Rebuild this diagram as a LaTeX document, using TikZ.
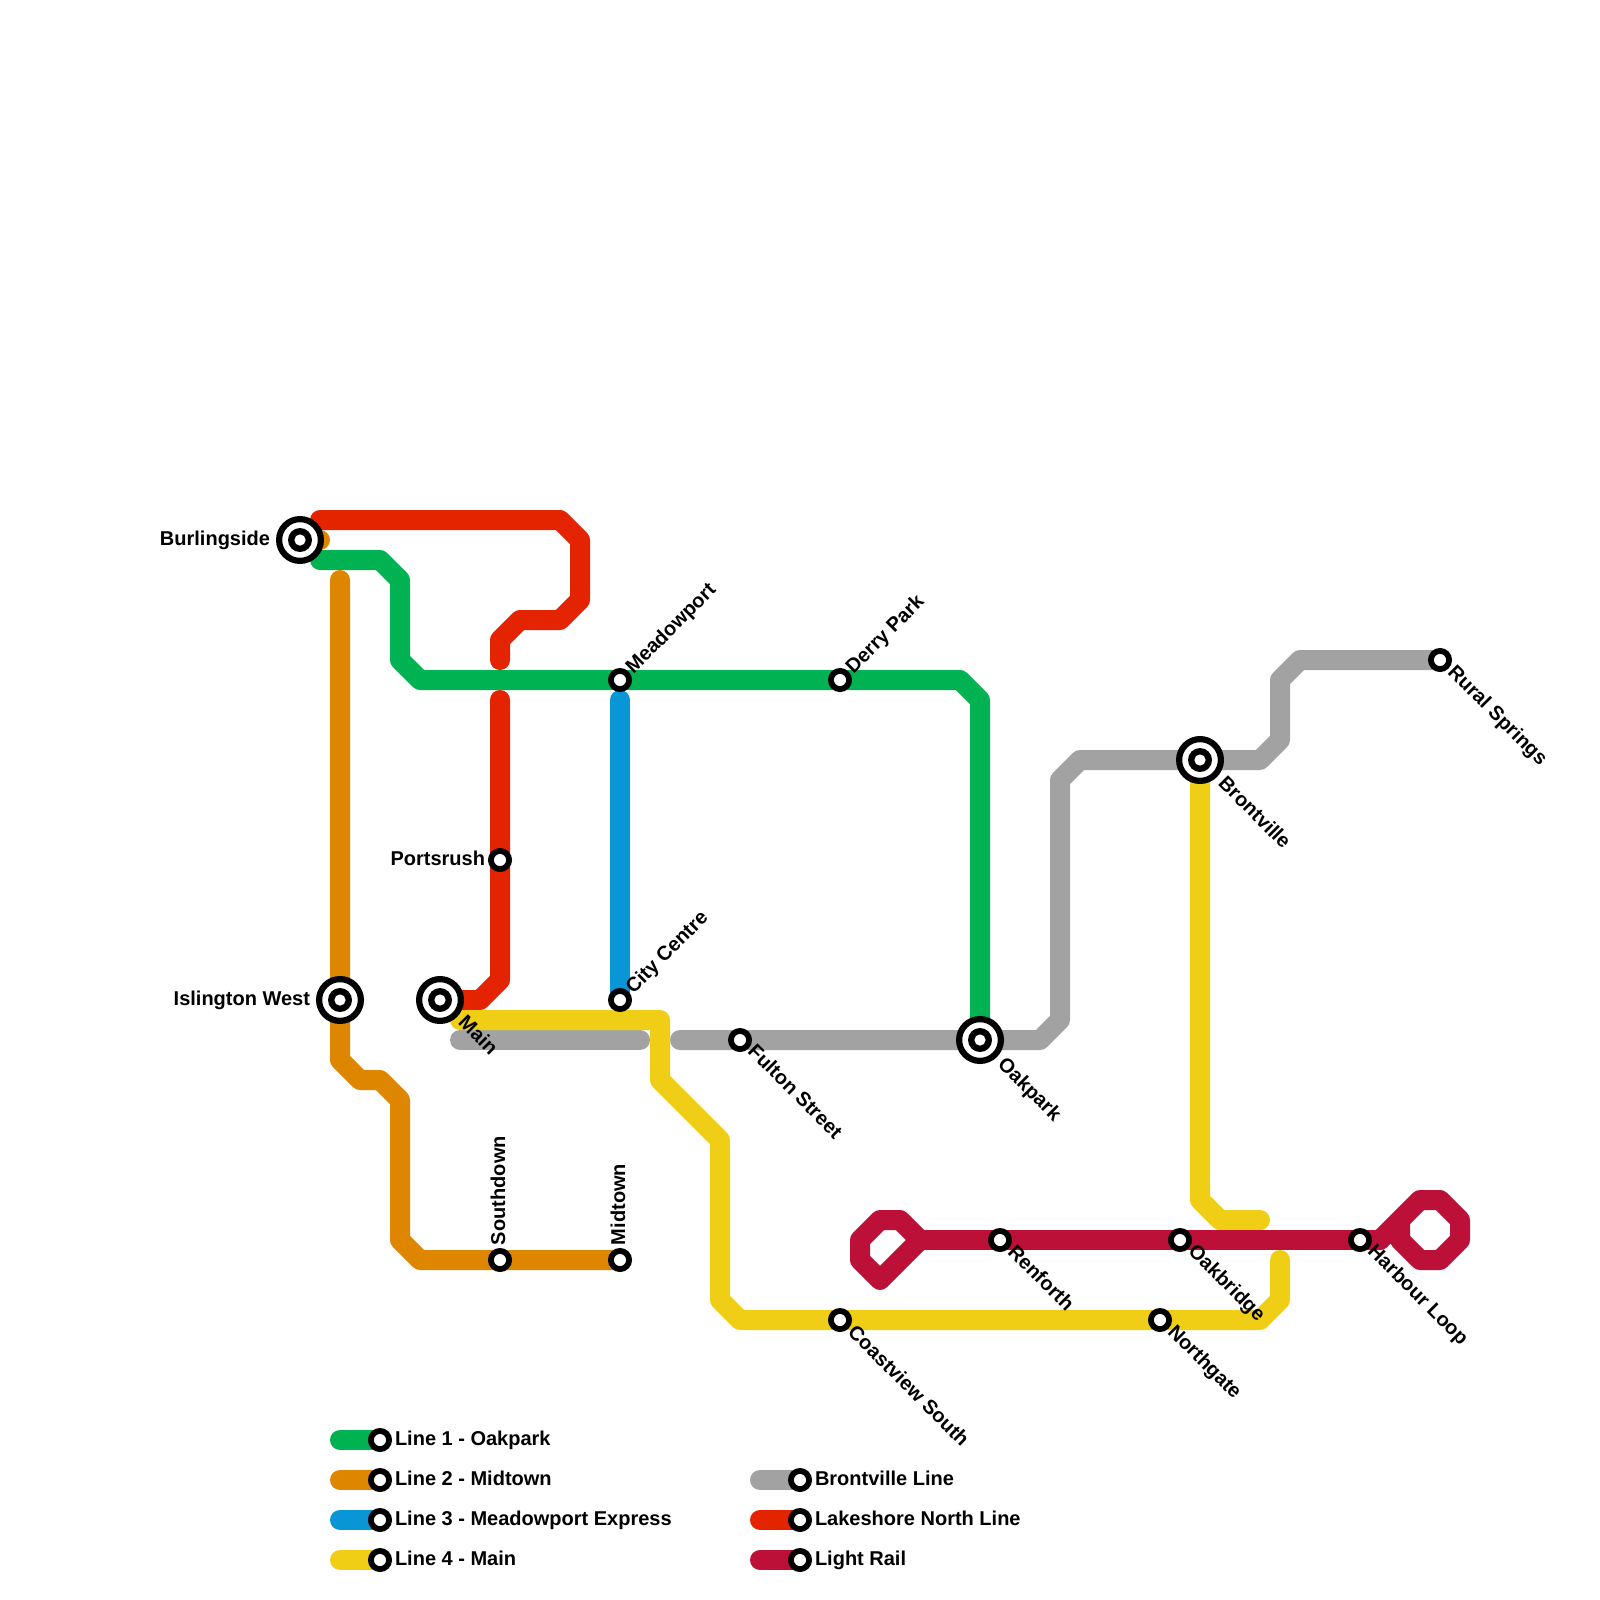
\documentclass[tikz,border=0pt]{standalone}
\usepackage{fontspec}
\setmainfont{Liberation Sans}
\pgfdeclarelayer{bg}
\pgfsetlayers{bg,main}
\definecolor{lgreen}{HTML}{00B251}
\definecolor{lorange}{HTML}{DF8600}
\definecolor{lblue}{HTML}{0896D7}
\definecolor{lyellow}{HTML}{F0CE15}
\definecolor{lgrey}{HTML}{A2A2A2}
\definecolor{lred}{HTML}{E42300}
\definecolor{lrail}{HTML}{BD1038}
\tikzset{
  x=1pt,y=-1pt,
  metro/.style={line width=20pt,line cap=round,line join=round},
  stop/.style={circle,draw=black,fill=white,line width=5.8pt,minimum size=18.2pt,inner sep=0pt,outer sep=0pt},
  hub/.style={circle,draw=black,fill=white,line width=6.2pt,minimum size=41.8pt,inner sep=0pt,outer sep=0pt,
    path picture={\fill[black] (path picture bounding box.center) circle[radius=12pt];
                  \fill[white] (path picture bounding box.center) circle[radius=5.6pt];}},
  lbl/.style={font=\bfseries\fontsize{20pt}{22pt}\selectfont,text=black,inner sep=0pt,outer sep=0pt,text height=14pt,text depth=4pt},
  lblL/.style={lbl,anchor=east},
  lblUp/.style={lbl,anchor=west,rotate=45},
  lblDn/.style={lbl,anchor=west,rotate=-45},
  lblV/.style={lbl,anchor=west,rotate=90},
  key/.style={lbl,anchor=west},
}
\begin{document}
\begin{tikzpicture}
\useasboundingbox (0,0) rectangle (1600,1600);
% stations
\node[hub] (burl) at (300,540) {};
\node[hub] (isl) at (340,1000) {};
\node[hub] (main) at (440,1000) {};
\node[hub] (oak) at (980,1040) {};
\node[hub] (bront) at (1200,760) {};
\node[stop] (meadow) at (620,680) {};
\node[stop] (derry) at (840,680) {};
\node[stop] (ports) at (500,860) {};
\node[stop] (city) at (620,1000) {};
\node[stop] (fulton) at (740,1040) {};
\node[stop] (rural) at (1440,660) {};
\node[stop] (renf) at (1000,1240) {};
\node[stop] (oakb) at (1180,1240) {};
\node[stop] (harb) at (1360,1240) {};
\node[stop] (coast) at (840,1320) {};
\node[stop] (north) at (1160,1320) {};
\node[stop] (south) at (500,1260) {};
\node[stop] (mid) at (620,1260) {};
% free line ends
\coordinate (gA) at (320,560);
\coordinate (oA) at (320,540);
\coordinate (oB) at (340,580);
\coordinate (bA) at (620,700);
\coordinate (yA) at (460,1020);
\coordinate (yB) at (1280,1260);
\coordinate (yC) at (1260,1220);
\coordinate (aA) at (460,1040);
\coordinate (aB) at (640,1040);
\coordinate (aC) at (680,1040);
\coordinate (rA) at (320,520);
\coordinate (rB) at (500,660);
\coordinate (rC) at (500,700);
\coordinate (lA) at (920,1240);
\coordinate (lB) at (1380,1240);
% legend stops
\foreach \n/\yy in {k1/1440,k2/1480,k3/1520,k4/1560}{\node[stop] (\n) at (380,\yy) {};}
\foreach \n/\yy in {k5/1480,k6/1520,k7/1560}{\node[stop] (\n) at (800,\yy) {};}
\coordinate (k1s) at (340,1440);\coordinate (k2s) at (340,1480);\coordinate (k3s) at (340,1520);\coordinate (k4s) at (340,1560);
\coordinate (k5s) at (760,1480);\coordinate (k6s) at (760,1520);\coordinate (k7s) at (760,1560);
\begin{pgfonlayer}{bg}
\draw[metro,lgreen] (gA) -- (380,560) -- (400,580) -- (400,660) -- (420,680) -- (meadow.center) -- (derry.center) -- (960,680) -- (980,700) -- (oak.center);
\draw[metro,lorange] (burl.center) -- (oA);
\draw[metro,lorange] (oB) -- (isl.center) -- (340,1060) -- (360,1080) -- (380,1080) -- (400,1100) -- (400,1240) -- (420,1260) -- (south.center) -- (mid.center);
\draw[metro,lblue] (bA) -- (city.center);
\draw[metro,lgrey] (aA) -- (aB);
\draw[metro,lgrey] (aC) -- (fulton.center) -- (oak.center) -- (1040,1040) -- (1060,1020) -- (1060,780) -- (1080,760) -- (bront.center) -- (1260,760) -- (1280,740) -- (1280,680) -- (1300,660) -- (rural.center);
\draw[metro,lred] (rA) -- (560,520) -- (580,540) -- (580,600) -- (560,620) -- (520,620) -- (500,640) -- (rB);
\draw[metro,lred] (rC) -- (ports.center) -- (500,980) -- (480,1000) -- (main.center);
\draw[metro,lyellow] (yA) -- (660,1020) -- (660,1080) -- (720,1140) -- (720,1300) -- (740,1320) -- (coast.center) -- (north.center) -- (1260,1320) -- (1280,1300) -- (yB);
\draw[metro,lyellow] (bront.center) -- (1200,1200) -- (1220,1220) -- (yC);
\draw[metro,lrail] (lA) -- (900,1220) -- (880,1220) -- (860,1240) -- (860,1260) -- (880,1280) -- cycle;
\draw[metro,lrail] (lA) -- (renf.center) -- (oakb.center) -- (harb.center) -- (lB);
\draw[metro,lrail] (lB) -- (1420,1200) -- (1440,1200) -- (1460,1220) -- (1460,1240) -- (1440,1260) -- (1420,1260) -- (1400,1240) -- (1400,1220);
% legend swatches
\draw[metro,lgreen] (k1s) -- (k1.center);
\draw[metro,lorange] (k2s) -- (k2.center);
\draw[metro,lblue] (k3s) -- (k3.center);
\draw[metro,lyellow] (k4s) -- (k4.center);
\draw[metro,lgrey] (k5s) -- (k5.center);
\draw[metro,lred] (k6s) -- (k6.center);
\draw[metro,lrail] (k7s) -- (k7.center);
\end{pgfonlayer}
% labels
\node[lblL] (tburl) at (270,540) {Burlingside};
\node[lblL] (tisl) at (310,1000) {Islington West};
\node[lblL] (tports) at (485,860) {Portsrush};
\node[lblUp] (tmeadow) at (630,671) {Meadowport};
\node[lblUp] (tderry) at (850,671) {Derry Park};
\node[lblUp] (tcity) at (630,991) {City Centre};
\node[lblDn] (tmain) at (461,1020) {Main};
\node[lblDn] (tfulton) at (750.5,1049) {Fulton Street};
\node[lblDn] (toak) at (1000.5,1062) {Oakpark};
\node[lblDn] (tbront) at (1221,781) {Brontville};
\node[lblDn] (trural) at (1450.5,670) {Rural Springs};
\node[lblDn] (trenf) at (1010.5,1249.5) {Renforth};
\node[lblDn] (toakb) at (1191,1249) {Oakbridge};
\node[lblDn] (tharb) at (1370.5,1249) {Harbour Loop};
\node[lblDn] (tcoast) at (850.5,1330) {Coastview South};
\node[lblDn] (tnorth) at (1170.5,1329.5) {Northgate};
\node[lblV] (tsouth) at (500,1245) {Southdown};
\node[lblV] (tmid) at (620,1245) {Midtown};
\node[key] (t1) at (395,1440) {Line 1 - Oakpark};
\node[key] (t2) at (395,1480) {Line 2 - Midtown};
\node[key] (t3) at (395,1520) {Line 3 - Meadowport Express};
\node[key] (t4) at (395,1560) {Line 4 - Main};
\node[key] (t5) at (815,1480) {Brontville Line};
\node[key] (t6) at (815,1520) {Lakeshore North Line};
\node[key] (t7) at (815,1560) {Light Rail};
\end{tikzpicture}
\end{document}
